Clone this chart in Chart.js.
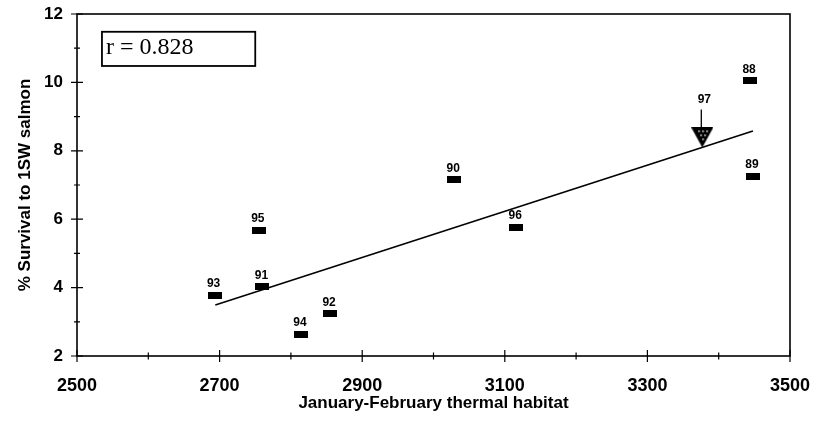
<!DOCTYPE html>
<html>
<head>
<meta charset="utf-8">
<script src="https://cdn.jsdelivr.net/npm/chart.js@4"></script>
<style>
  html, body { margin: 0; padding: 0; background: #fff; }
  #wrap { width: 820px; height: 423px; position: relative; }
</style>
</head>
<body>
<div id="wrap"><canvas id="chart"></canvas></div>
<script>
// survival vs thermal habitat, one marker per smolt year
const years = ['88', '89', '90', '91', '92', '93', '94', '95', '96'];
const thermal = [3444, 3448, 3029, 2760, 2855, 2693, 2814, 2755, 3116];
const survival = [10.05, 7.26, 7.15, 4.02, 3.23, 3.77, 2.63, 5.67, 5.77];

// 1997 predicted from the fit
const predYears = ['97'];
const predThermal = [3377];
const predSurvival = [8.39];

// regression line ends
const fitThermal = [2694, 3448];
const fitSurvival = [3.49, 8.58];

// axis ranges: labelled every 200 / 2, minor ticks in between
const xRange = [2500, 3500];
const yRange = [2, 12];

const corrText = 'r = 0.828';
const corrBox = { x0: 2535, x1: 2750, y0: 10.48, y1: 11.48 };

const FONT = "'Liberation Sans', Arial, sans-serif";
const SERIF = "'Liberation Serif', 'Times New Roman', serif";

const q = (s) => document.querySelector(s);
const isMajorX = v => (v - xRange[0]) % 200 === 0;
const isMajorY = v => (v - yRange[0]) % 2 === 0;

function rectMarker() {
  const c = document.createElement('canvas');
  c.width = 14; c.height = 7;
  const g = c.getContext('2d');
  g.fillStyle = '#000';
  g.fillRect(0, 0, 14, 7);
  return c;
}

function triMarker() {
  const c = document.createElement('canvas');
  c.width = 22; c.height = 20;
  const g = c.getContext('2d');
  g.fillStyle = '#000';
  g.beginPath();
  g.moveTo(0, 0); g.lineTo(22, 0); g.lineTo(11, 20); g.closePath();
  g.fill();
  g.fillStyle = '#fff';
  [[7, 3], [11, 3], [15, 3], [9, 7], [13, 7], [11, 11]].forEach(([x, y]) => g.fillRect(x, y, 1.5, 1.5));
  return c;
}

const pts = (xs, ys) => xs.map((x, i) => ({ x, y: ys[i] }));

const decor = {
  id: 'decor',
  afterDraw(chart) {
    const { ctx, chartArea: a, scales: { x, y } } = chart;
    ctx.save();
    ctx.strokeStyle = '#000';
    ctx.lineWidth = 1.6;
    ctx.strokeRect(a.left, a.top, a.right - a.left, a.bottom - a.top);

    // crossing tick marks
    ctx.lineWidth = 1.2;
    ctx.beginPath();
    x.ticks.forEach(t => {
      const px = x.getPixelForValue(t.value);
      const len = isMajorX(t.value) ? 6 : 3.5;
      ctx.moveTo(px, a.bottom - len); ctx.lineTo(px, a.bottom + len);
    });
    y.ticks.forEach(t => {
      const py = y.getPixelForValue(t.value);
      const len = isMajorY(t.value) ? 6 : 3;
      ctx.moveTo(a.left - len, py); ctx.lineTo(a.left + len, py);
    });
    ctx.stroke();

    // year labels over markers
    ctx.fillStyle = '#000';
    ctx.font = `bold 12px ${FONT}`;
    ctx.textAlign = 'center';
    ctx.textBaseline = 'middle';
    chart.getDatasetMeta(0).data.forEach((el, i) => {
      ctx.fillText(years[i], el.x - 1, el.y - 11.5);
    });
    chart.getDatasetMeta(1).data.forEach((el, i) => {
      ctx.fillText(predYears[i], el.x + 2, el.y - 38);
      ctx.lineWidth = 1.3;
      ctx.beginPath();
      ctx.moveTo(el.x - 1, el.y - 28); ctx.lineTo(el.x - 1, el.y - 10);
      ctx.stroke();
    });

    // correlation box
    const bx0 = x.getPixelForValue(corrBox.x0), bx1 = x.getPixelForValue(corrBox.x1);
    const by0 = y.getPixelForValue(corrBox.y1), by1 = y.getPixelForValue(corrBox.y0);
    ctx.lineWidth = 1.8;
    ctx.strokeRect(bx0, by0, bx1 - bx0, by1 - by0);
    ctx.font = `24px ${SERIF}`;
    ctx.textAlign = 'left';
    ctx.textBaseline = 'alphabetic';
    ctx.fillText(corrText, bx0 + 4, by0 + 22.5);
    ctx.restore();
  }
};

new Chart(q('#chart'), {
  type: 'scatter',
  data: {
    datasets: [
      { data: pts(thermal, survival), pointStyle: rectMarker(), pointRadius: 7, order: 1 },
      { data: pts(predThermal, predSurvival), pointStyle: triMarker(), pointRadius: 11, order: 1 },
      { data: pts(fitThermal, fitSurvival), showLine: true, borderColor: '#000', borderWidth: 1.6,
        pointRadius: 0, fill: false, order: 2 }
    ]
  },
  options: {
    responsive: true,
    maintainAspectRatio: false,
    animation: false,
    events: [],
    layout: { padding: { top: 14, right: 30, left: 0, bottom: 0 } },
    plugins: { legend: { display: false }, tooltip: { enabled: false } },
    scales: {
      x: {
        type: 'linear', min: xRange[0], max: xRange[1],
        grid: { display: false, drawTicks: false },
        border: { display: false },
        ticks: {
          stepSize: 100, autoSkip: false, maxRotation: 0, padding: 19,
          color: '#000', font: { family: FONT, size: 18, weight: 'bold' },
          callback: v => isMajorX(v) ? String(v) : ''
        },
        title: {
          display: true, text: 'January-February thermal habitat', color: '#000',
          font: { family: FONT, size: 17, weight: 'bold' }, padding: { top: 0, bottom: 9 }
        },
        afterFit: s => { s.height = 67; s.paddingLeft = 0; s.paddingRight = 0; }
      },
      y: {
        type: 'linear', min: yRange[0], max: yRange[1],
        grid: { display: false, drawTicks: false },
        border: { display: false },
        ticks: {
          stepSize: 1, autoSkip: false, padding: 14,
          color: '#000', font: { family: FONT, size: 17, weight: 'bold' },
          callback: v => isMajorY(v) ? String(v) : ''
        },
        title: {
          display: true, text: '% Survival to 1SW salmon', color: '#000',
          font: { family: FONT, size: 17, weight: 'bold' }, padding: { top: 15, bottom: 0 }
        },
        afterFit: s => { s.width = 77; s.paddingTop = 0; s.paddingBottom = 0; }
      }
    }
  },
  plugins: [decor]
});
</script>
</body>
</html>
